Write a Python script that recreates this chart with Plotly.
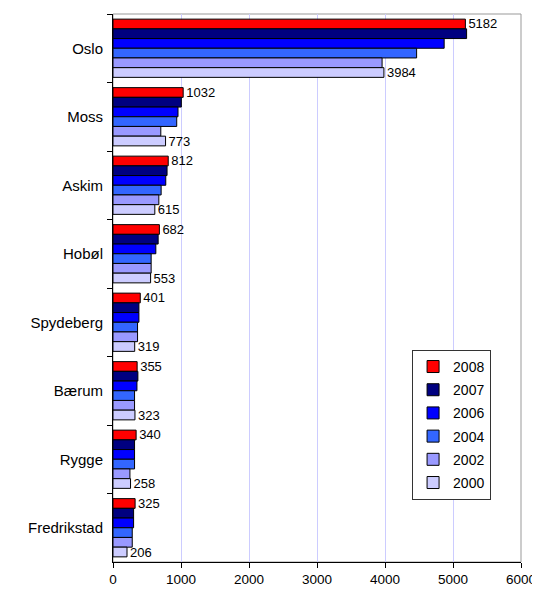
import plotly.graph_objects as go

categories = ["Oslo", "Moss", "Askim", "Hobøl", "Spydeberg", "Bærum", "Rygge", "Fredrikstad"]
years = ["2008", "2007", "2006", "2004", "2002", "2000"]
v2008 = [5182, 1032, 812, 682, 401, 355, 340, 325]
v2007 = [5200, 1005, 795, 664, 381, 366, 317, 303]
v2006 = [4870, 956, 776, 630, 381, 352, 317, 303]
v2004 = [4465, 937, 708, 561, 361, 317, 317, 283]
v2002 = [3957, 703, 674, 561, 361, 317, 249, 283]
v2000 = [3984, 773, 615, 553, 319, 323, 258, 206]
series = [v2008, v2007, v2006, v2004, v2002, v2000]
colors = ["#FF0000", "#000080", "#0000FF", "#3366FF", "#9999FF", "#CCCCFF"]
labelled = {"2008", "2000"}

fig = go.Figure()
for i, (yr, vals, col) in enumerate(zip(years, series, colors)):
    fig.add_trace(go.Bar(
        y=categories, x=vals, name=yr, orientation="h",
        marker=dict(color=col, line=dict(color="black", width=1)),
        text=[str(v) for v in vals] if yr in labelled else None,
        textposition="outside" if yr in labelled else "none",
        textfont=dict(size=13, color="black", family="Liberation Sans, Arial"),
        constraintext="none", cliponaxis=False,
        legendgroup=yr,
    ))

# page body has an 8px margin, so the figure is drawn 8px in from the top-left
fig.update_layout(
    width=532, height=583,
    barmode="group", bargap=0.15, bargroupgap=0,
    margin=dict(l=105, r=19, t=6, b=29, autoexpand=False),
    plot_bgcolor="white", paper_bgcolor="white",
    font=dict(family="Liberation Sans, Arial", color="black"),
    showlegend=True,
    legend=dict(
        x=0.733, y=0.387, xanchor="left", yanchor="top",
        bordercolor="#333333", borderwidth=1, bgcolor="white",
        font=dict(size=14), traceorder="grouped", tracegroupgap=2,
        itemwidth=30,
    ),
    shapes=[dict(type="rect", xref="paper", yref="paper", x0=0, x1=1, y0=0, y1=1,
                 line=dict(color="#999999", width=1), layer="below")],
)
fig.update_xaxes(
    range=[0, 6000], dtick=1000, showgrid=True, gridcolor="#CCCCFF", gridwidth=1,
    showline=True, linecolor="black", linewidth=1, ticks="outside", ticklen=5,
    tickcolor="black", tickfont=dict(size=13.5), zeroline=False, automargin=False,
)
fig.update_yaxes(
    autorange="reversed", showline=True, linecolor="black", linewidth=1,
    ticks="outside", ticklen=5, tickcolor="black", tickson="boundaries",
    tickfont=dict(size=15), showgrid=False, automargin=False, ticklabelstandoff=6,
)
fig.write_html("out.html")
